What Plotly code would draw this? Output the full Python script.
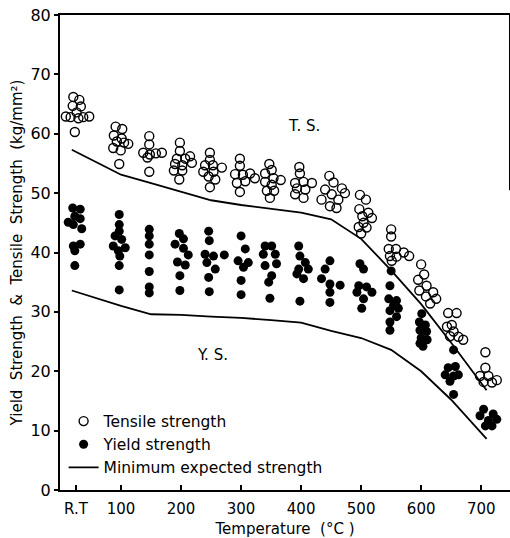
import plotly.graph_objects as go

# ---------------- data ----------------
ts_temp = [20.5, 30.5, 19.5, 33, 26, 8, 16, 29, 37, 47, 23,
           91, 102, 88, 101, 93, 112, 87, 99.5, 105, 97,
           147, 147, 137, 148, 158, 168, 144, 147,
           198, 198, 193, 207, 215, 218, 190, 202, 188, 202, 197,
           248, 248, 240, 253, 268, 237, 254, 246, 257, 248,
           298, 298, 290, 303, 315, 323, 293, 307, 298,
           347, 351, 340, 354, 340, 366, 351, 343, 355, 348,
           397, 398, 404, 390, 418, 393, 407, 390, 404,
           447, 454, 440, 468, 451, 473, 434, 448, 462, 459,
           498, 508, 497, 512, 518, 502, 504, 496, 509, 500,
           550, 550, 546, 558, 571, 580, 548, 559, 551,
           600, 605, 595, 609, 620, 597, 608, 625, 615,
           645, 659, 651, 643, 654, 662, 670, 648,
           707, 707, 698, 712, 726, 704, 718]
ts_value = [66.2, 65.7, 64.7, 64.6, 63.6, 62.9, 62.8, 62.6, 62.8, 62.9, 60.3,
            61.2, 60.8, 59.7, 59.2, 58.7, 58.3, 57.6, 57.2, 58.5, 54.9,
            59.6, 58.2, 56.8, 56.5, 56.7, 56.8, 56.0, 53.6,
            58.5, 57.1, 55.8, 55.8, 56.2, 55.1, 54.9, 54.7, 53.8, 53.8, 52.3,
            56.8, 55.6, 54.7, 54.7, 54.3, 53.6, 53.6, 52.8, 52.3, 51.0,
            55.8, 54.6, 53.2, 53.1, 53.3, 52.5, 51.7, 52.0, 50.2,
            54.9, 53.9, 53.3, 52.5, 51.9, 52.2, 51.4, 50.4, 50.4, 49.2,
            54.4, 53.3, 51.9, 51.7, 51.7, 50.8, 50.6, 49.8, 49.2,
            52.9, 51.8, 50.6, 50.8, 49.8, 50.0, 48.9, 47.8, 48.9, 47.5,
            49.7, 48.9, 47.3, 46.7, 45.8, 46.1, 45.0, 44.3, 44.2, 43.2,
            43.9, 42.7, 40.6, 40.6, 40.0, 39.4, 39.4, 39.3, 38.6,
            38.0, 36.3, 35.4, 34.4, 33.3, 33.6, 32.6, 32.2, 31.4,
            29.8, 29.8, 27.8, 27.5, 26.7, 25.8, 25.3, 25.9,
            23.2, 20.6, 19.2, 19.2, 18.5, 18.2, 18.1]

ys_temp = [19.5, 32, 23, 12, 32, 20.5, 34.5, 20.5, 32, 23, 23,
           97, 97, 97, 90, 101, 87, 107, 95.5, 98, 97, 97,
           147, 147, 147, 147, 147, 147, 147,
           197, 204, 190, 204, 212, 194, 207, 198, 198,
           246, 247, 240, 254, 272, 243, 257, 246, 247,
           300, 307, 295, 312, 304, 300, 300,
           340, 351, 337, 357, 340, 359, 351, 346, 348,
           396, 398, 407, 396, 412, 393, 404, 398,
           448, 440, 434, 448, 465, 448, 448,
           498, 504, 496, 509, 518, 493, 504, 501,
           550, 548, 546, 559, 554, 562, 548, 559, 548, 548,
           601, 597, 607, 598, 609, 600, 610, 603, 598,
           654, 645, 657, 640, 654, 662, 648, 654,
           704, 720, 698, 712, 726, 707, 718]
ys_value = [47.5, 47.3, 46.1, 45.1, 45.7, 44.7, 44.0, 41.1, 41.4, 40.3, 37.8,
            46.4, 44.7, 43.6, 42.8, 42.2, 41.1, 40.8, 40.3, 39.4, 37.8, 33.7,
            43.9, 42.8, 41.4, 39.6, 36.8, 34.2, 33.2,
            43.2, 42.3, 41.4, 40.7, 39.6, 38.4, 37.9, 36.1, 33.6,
            43.6, 42.0, 39.7, 39.4, 39.6, 38.3, 37.2, 35.8, 33.4,
            42.8, 40.6, 38.6, 38.3, 37.5, 35.3, 32.9,
            41.1, 41.1, 39.7, 39.7, 37.8, 38.1, 36.1, 35.0, 32.3,
            41.1, 39.4, 38.3, 37.2, 37.2, 36.4, 35.6, 31.8,
            38.6, 37.2, 35.6, 34.7, 34.5, 33.3, 31.6,
            38.1, 37.2, 34.4, 34.2, 33.3, 33.3, 32.2, 30.6,
            36.9, 34.4, 32.2, 31.9, 31.1, 30.6, 30.2, 29.2, 28.3, 26.9,
            29.7, 28.3, 27.8, 26.9, 26.7, 25.6, 25.3, 24.2, 24.7,
            23.6, 20.6, 20.8, 19.4, 19.2, 19.4, 18.3, 16.1,
            13.6, 12.8, 12.5, 11.7, 11.9, 10.8, 10.8]

min_ts_temp = [18, 100, 150, 200, 250, 300, 350, 400, 450, 500, 550, 600, 650, 709]
min_ts_value = [57.3, 53.1, 51.7, 50.2, 48.8, 48.0, 47.4, 46.7, 45.6, 42.3, 37.0, 31.3, 24.8, 16.8]

min_ys_temp = [18, 100, 150, 200, 250, 300, 350, 400, 450, 500, 550, 600, 650, 709]
min_ys_value = [33.6, 31.0, 29.6, 29.5, 29.2, 29.0, 28.6, 28.2, 26.8, 25.6, 23.6, 20.0, 15.2, 8.6]

x_tick_vals = [25, 100, 200, 300, 400, 500, 600, 700]
x_tick_text = ["R.T", "100", "200", "300", "400", "500", "600", "700"]
y_tick_vals = [0, 10, 20, 30, 40, 50, 60, 70, 80]

FONT = "DejaVu Sans"

fig = go.Figure()
fig.add_trace(go.Scatter(
    x=ts_temp, y=ts_value, mode="markers", name="Tensile strength",
    marker=dict(symbol="circle-open", size=9, color="black", line=dict(width=1.4, color="black"))))
fig.add_trace(go.Scatter(
    x=ys_temp, y=ys_value, mode="markers", name="Yield strength",
    marker=dict(symbol="circle", size=9, color="black")))
fig.add_trace(go.Scatter(
    x=min_ts_temp, y=min_ts_value, mode="lines", name="Minimum expected strength",
    line=dict(color="black", width=1.8)))
fig.add_trace(go.Scatter(
    x=min_ys_temp, y=min_ys_value, mode="lines", showlegend=False,
    line=dict(color="black", width=1.8)))

fig.add_annotation(x=405, y=61.3, text="T. S.", showarrow=False,
                   font=dict(family=FONT, size=15, color="black"))
fig.add_annotation(x=253, y=22.8, text="Y. S.", showarrow=False,
                   font=dict(family=FONT, size=15, color="black"))

# partial right frame line as in the reference
fig.add_shape(type="line", xref="paper", yref="y", x0=1, x1=1, y0=80, y1=50.5,
              line=dict(color="black", width=2))

fig.update_layout(
    width=510, height=538,
    margin=dict(l=60, r=0, t=15, b=48),
    paper_bgcolor="white", plot_bgcolor="white",
    font=dict(family=FONT, size=15, color="black"),
    showlegend=True,
    legend=dict(x=0.008, y=0.18, xanchor="left", yanchor="top",
                bgcolor="rgba(0,0,0,0)", borderwidth=0,
                font=dict(family=FONT, size=15.5, color="black"),
                itemwidth=30, tracegroupgap=0),
    xaxis=dict(range=[-1.7, 748], tickvals=x_tick_vals, ticktext=x_tick_text,
               ticks="inside", ticklen=5, tickwidth=1.5, tickcolor="black",
               showline=True, linewidth=2, linecolor="black", mirror=True,
               showgrid=False, zeroline=False, ticklabelstandoff=4,
               tickfont=dict(family=FONT, size=15),
               title=dict(text="Temperature  (°C )", standoff=6,
                          font=dict(family=FONT, size=15))),
    yaxis=dict(range=[0, 80], tickvals=y_tick_vals,
               ticks="outside", ticklen=4, tickwidth=1.5, tickcolor="black",
               showline=True, linewidth=2, linecolor="black",
               showgrid=False, zeroline=False,
               tickfont=dict(family=FONT, size=16),
               title=dict(text="Yield  Strength  &  Tensile  Strength  (kg/mm²)", standoff=4,
                          font=dict(family=FONT, size=15))),
)

fig.write_html("out.html")
